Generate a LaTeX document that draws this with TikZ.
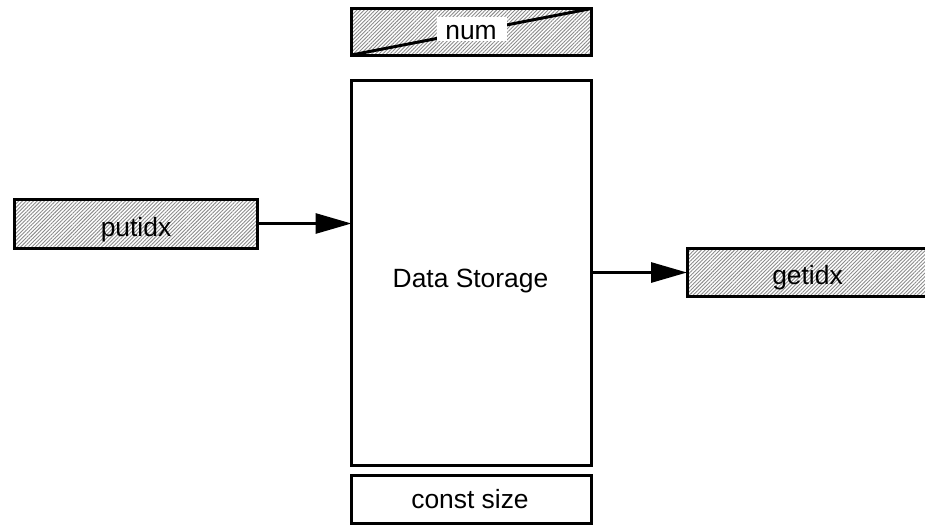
\documentclass[tikz,border=0pt]{standalone}
\usepackage{fontspec}
\setmainfont{Liberation Sans}
\usetikzlibrary{arrows.meta,patterns.meta}
\begin{document}
\begin{tikzpicture}[x=1pt,y=-1pt,
  box/.style={draw=black, line width=3pt, inner sep=0pt, outer sep=0pt},
  txt/.style={inner sep=0pt, anchor=base, font=\fontsize{26.4}{30}\selectfont},
  hatched/.style={pattern={Lines[angle=45,distance=2.6pt,line width=0.9pt]}, pattern color=black!45},
  conn/.style={line width=3pt, -{Triangle[length=36pt,width=20pt]}}]
\clip (0,0) rectangle (925,525);
\fill[white] (0,0) rectangle (925,525);
% boxes
\node[box, hatched, minimum width=240pt, minimum height=46.5pt] (num) at (471.5,31.75) {};
\draw[line width=3pt] (num.south west) -- (num.north east);
\node[fill=white, inner sep=0pt, minimum width=70pt, minimum height=24pt] (numbg) at (472,29) {};
\node[txt] (numlabel) at (471,39) {num};
\node[box, minimum width=240pt, minimum height=385pt] (store) at (471.5,272.5) {};
\node[txt] (storelabel) at (470.5,287.5) {Data Storage};
\node[box, minimum width=240pt, minimum height=48pt] (const) at (471.5,499) {};
\node[txt] (constlabel) at (470,508.5) {const size};
\node[box, hatched, minimum width=243pt, minimum height=49pt] (putidx) at (135.5,223.5) {};
\node[txt] (putlabel) at (136,236) {putidx};
\node[box, hatched, minimum width=253pt, minimum height=48pt] (getidx) at (813.5,272.5) {};
\node[txt] (getlabel) at (807.5,284.5) {getidx};
% connectors
\draw[conn] (putidx.east) -- (putidx.east -| store.west);
\draw[conn] (store.east |- getidx.west) -- (getidx.west);
\end{tikzpicture}
\end{document}
